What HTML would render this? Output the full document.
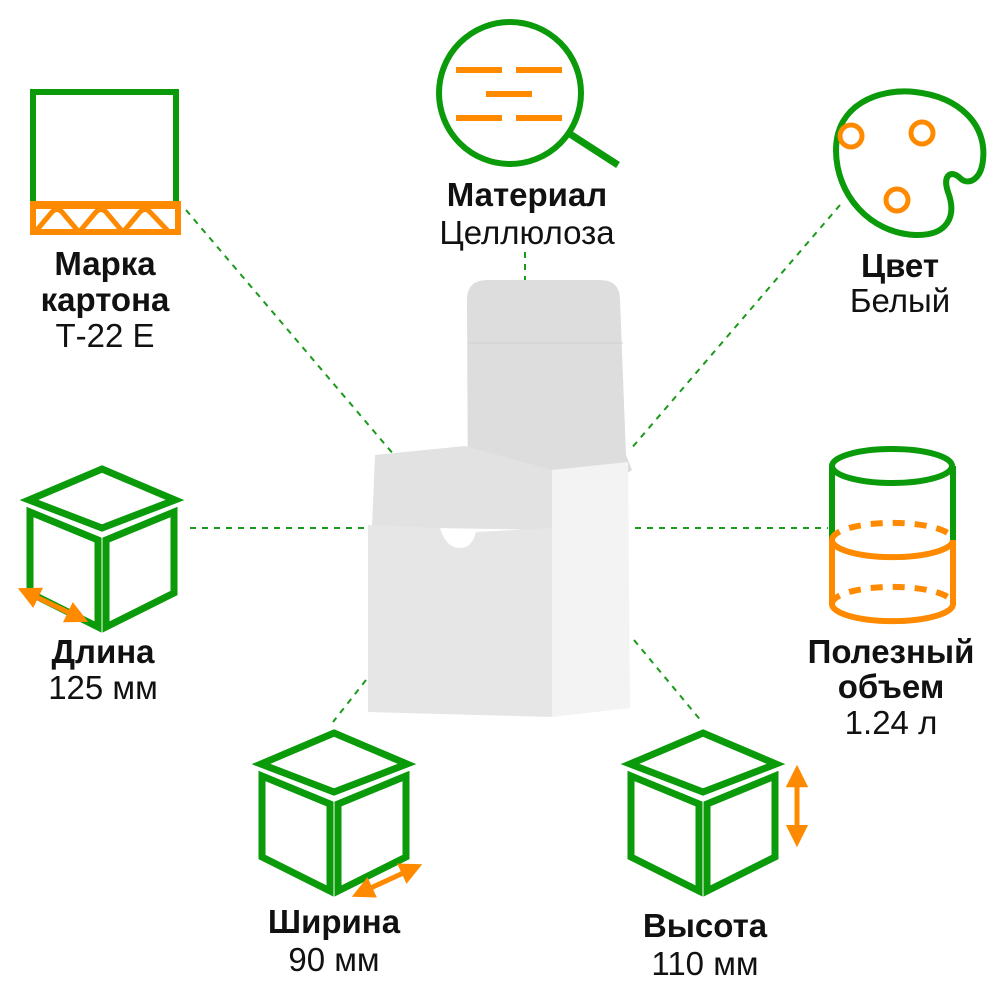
<!DOCTYPE html>
<html><head><meta charset="utf-8"><style>
body{margin:0;background:#fff}
svg{display:block}
text{font-family:"Liberation Sans",Arial,"DejaVu Sans",sans-serif;font-size:33px;fill:#111;text-anchor:middle}
.b{font-weight:bold}
</style></head><body>
<svg width="1000" height="1000" viewBox="0 0 1000 1000" xmlns="http://www.w3.org/2000/svg">
<defs>
<g id="cube" fill="none" stroke="#0a9a0a" stroke-width="7" stroke-linejoin="miter">
<polygon points="76,3 149,34 76,62 3,34"/>
<polygon points="4,46 72,74 72,161 4,127"/>
<polygon points="80,74 148,46 148,127 80,161"/>
</g>
<marker id="ah" viewBox="0 0 10 10" refX="5" refY="5" markerWidth="4.5" markerHeight="4.5" orient="auto-start-reverse"><path d="M0,0 L10,5 L0,10 z" fill="#ff8a00"/></marker>
</defs>
<g stroke="#1a9a1a" stroke-width="2" stroke-dasharray="6,6" fill="none">
<line x1="186" y1="210" x2="400" y2="462"/>
<line x1="525" y1="252" x2="525" y2="280"/>
<line x1="840" y1="205" x2="630" y2="450"/>
<line x1="190" y1="528" x2="366" y2="528"/>
<line x1="635" y1="528" x2="828" y2="528"/>
<line x1="366" y1="680" x2="333" y2="722"/>
<line x1="634" y1="640" x2="702" y2="722"/>
</g>
<path d="M467,300 Q467,280 487,280 L600,280 Q620,280 620,300 L626,455 L632,470 L552,525 L468,520 Z" fill="#dddddd"/>
<line x1="468" y1="343" x2="623" y2="343" stroke="#cfcfcf" stroke-width="1"/>
<path d="M375,455 L465,446 L552,470 L552,530 L372,527 Z" fill="#e2e2e2"/>
<path d="M368,525 L440,528 Q446,548 460,548 Q472,548 476,532 L552,528 L552,717 L368,712 Z" fill="#e6e6e6"/>
<path d="M552,470 L628,462 L630,708 L552,717 Z" fill="#f3f3f3"/>
<rect x="33" y="92" width="143" height="116" fill="none" stroke="#0a9a0a" stroke-width="6"/>
<rect x="30" y="201" width="151" height="34" fill="#ff8a00"/>
<rect x="36" y="209" width="139" height="20" fill="#fff"/>
<path d="M36,231 L52,212 Q57,207 62,212 L78,231 M80,231 L96,212 Q101,207 106,212 L122,231 M124,231 L140,212 Q145,207 150,212 L168,231" fill="none" stroke="#ff8a00" stroke-width="5"/>
<circle cx="510" cy="93" r="71" fill="none" stroke="#0a9a0a" stroke-width="6"/>
<line x1="570" y1="134" x2="618" y2="165" stroke="#0a9a0a" stroke-width="7"/>
<g stroke="#ff8a00" stroke-width="6">
<line x1="456" y1="70" x2="502" y2="70"/><line x1="516" y1="70" x2="562" y2="70"/>
<line x1="486" y1="94" x2="532" y2="94"/>
<line x1="456" y1="118" x2="502" y2="118"/><line x1="516" y1="118" x2="562" y2="118"/>
</g>
<path d="M836,150 C836,105 878,88 915,92 C960,97 987,125 983,160 C981,180 968,186 960,178 C952,170 942,174 948,192 C957,216 948,236 915,235 C870,233 836,195 836,150 Z" fill="none" stroke="#0a9a0a" stroke-width="6"/>
<g fill="none" stroke="#ff8a00" stroke-width="5"><circle cx="851" cy="136" r="11"/><circle cx="922" cy="133" r="11"/><circle cx="897" cy="200" r="11"/></g>
<g fill="none" stroke-width="6">
<path d="M832,466 L832,540 M953,466 L953,540" stroke="#0a9a0a"/>
<ellipse cx="892" cy="466" rx="60" ry="17" stroke="#0a9a0a"/>
<path d="M832,540 L832,604 A60,17 0 0 0 953,604 L953,540 A60,17 0 0 1 832,540" stroke="#ff8a00"/>
<path d="M832,540 A60,17 0 0 1 953,540" stroke="#ff8a00" stroke-dasharray="12,10"/>
<path d="M832,604 A60,17 0 0 1 953,604" stroke="#ff8a00" stroke-dasharray="12,10"/>
</g>
<use href="#cube" x="26" y="466"/>
<use href="#cube" x="258" y="730"/>
<use href="#cube" x="627" y="730"/>
<g stroke="#ff8a00" stroke-width="5" marker-start="url(#ah)" marker-end="url(#ah)">
<line x1="28" y1="593" x2="78" y2="617"/>
<line x1="362" y1="892" x2="412" y2="869"/>
<line x1="797" y1="776" x2="797" y2="836"/>
</g>
<text class="b" x="527" y="206">Материал</text>
<text x="527" y="244">Целлюлоза</text>
<text class="b" x="105" y="275">Марка</text>
<text class="b" x="105" y="311">картона</text>
<text x="105" y="347">Т-22 Е</text>
<text class="b" x="900" y="277">Цвет</text>
<text x="900" y="312">Белый</text>
<text class="b" x="103" y="663">Длина</text>
<text x="103" y="699">125 мм</text>
<text class="b" x="891" y="663">Полезный</text>
<text class="b" x="891" y="698">объем</text>
<text x="891" y="734">1.24 л</text>
<text class="b" x="334" y="933">Ширина</text>
<text x="334" y="971">90 мм</text>
<text class="b" x="705" y="937">Высота</text>
<text x="705" y="975">110 мм</text>
</svg>
</body></html>
